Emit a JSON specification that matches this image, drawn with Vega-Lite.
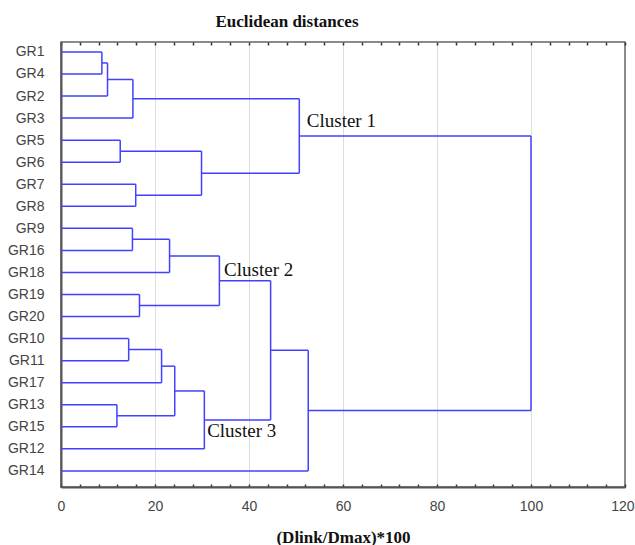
{
  "$schema": "https://vega.github.io/schema/vega-lite/v6.json",
  "width": 564,
  "height": 445,
  "autosize": "none",
  "padding": {"left": 61, "top": 42, "right": 10, "bottom": 58},
  "background": "white",
  "title": {
    "text": "Euclidean distances",
    "anchor": "start",
    "dx": 208,
    "offset": 10,
    "font": "Liberation Serif",
    "fontSize": 17,
    "fontWeight": "bold",
    "color": "#111"
  },
  "config": {
    "view": {"stroke": "#666", "strokeWidth": 1.5},
    "axis": {"labelFont": "Liberation Sans", "labelFontSize": 14, "labelColor": "#444"},
    "axisY": {"labelOverlap": false}
  },
  "datasets": {
    "segs": [
      {"x": 0, "x2": 8.7, "y": 0, "y2": 0},
      {"x": 0, "x2": 8.7, "y": 1, "y2": 1},
      {"x": 8.7, "x2": 8.7, "y": 0, "y2": 1},
      {"x": 8.7, "x2": 9.9, "y": 0.5, "y2": 0.5},
      {"x": 0, "x2": 9.9, "y": 2, "y2": 2},
      {"x": 9.9, "x2": 9.9, "y": 0.5, "y2": 2},
      {"x": 9.9, "x2": 15.3, "y": 1.25, "y2": 1.25},
      {"x": 0, "x2": 15.3, "y": 3, "y2": 3},
      {"x": 15.3, "x2": 15.3, "y": 1.25, "y2": 3},
      {"x": 0, "x2": 12.6, "y": 4, "y2": 4},
      {"x": 0, "x2": 12.6, "y": 5, "y2": 5},
      {"x": 12.6, "x2": 12.6, "y": 4, "y2": 5},
      {"x": 0, "x2": 15.9, "y": 6, "y2": 6},
      {"x": 0, "x2": 15.9, "y": 7, "y2": 7},
      {"x": 15.9, "x2": 15.9, "y": 6, "y2": 7},
      {"x": 12.6, "x2": 29.9, "y": 4.5, "y2": 4.5},
      {"x": 15.9, "x2": 29.9, "y": 6.5, "y2": 6.5},
      {"x": 29.9, "x2": 29.9, "y": 4.5, "y2": 6.5},
      {"x": 15.3, "x2": 50.7, "y": 2.125, "y2": 2.125},
      {"x": 29.9, "x2": 50.7, "y": 5.5, "y2": 5.5},
      {"x": 50.7, "x2": 50.7, "y": 2.125, "y2": 5.5},
      {"x": 0, "x2": 15.2, "y": 8, "y2": 8},
      {"x": 0, "x2": 15.2, "y": 9, "y2": 9},
      {"x": 15.2, "x2": 15.2, "y": 8, "y2": 9},
      {"x": 15.2, "x2": 23.1, "y": 8.5, "y2": 8.5},
      {"x": 0, "x2": 23.1, "y": 10, "y2": 10},
      {"x": 23.1, "x2": 23.1, "y": 8.5, "y2": 10},
      {"x": 0, "x2": 16.7, "y": 11, "y2": 11},
      {"x": 0, "x2": 16.7, "y": 12, "y2": 12},
      {"x": 16.7, "x2": 16.7, "y": 11, "y2": 12},
      {"x": 23.1, "x2": 33.7, "y": 9.25, "y2": 9.25},
      {"x": 16.7, "x2": 33.7, "y": 11.5, "y2": 11.5},
      {"x": 33.7, "x2": 33.7, "y": 9.25, "y2": 11.5},
      {"x": 0, "x2": 14.4, "y": 13, "y2": 13},
      {"x": 0, "x2": 14.4, "y": 14, "y2": 14},
      {"x": 14.4, "x2": 14.4, "y": 13, "y2": 14},
      {"x": 14.4, "x2": 21.4, "y": 13.5, "y2": 13.5},
      {"x": 0, "x2": 21.4, "y": 15, "y2": 15},
      {"x": 21.4, "x2": 21.4, "y": 13.5, "y2": 15},
      {"x": 0, "x2": 11.9, "y": 16, "y2": 16},
      {"x": 0, "x2": 11.9, "y": 17, "y2": 17},
      {"x": 11.9, "x2": 11.9, "y": 16, "y2": 17},
      {"x": 21.4, "x2": 24.2, "y": 14.25, "y2": 14.25},
      {"x": 11.9, "x2": 24.2, "y": 16.5, "y2": 16.5},
      {"x": 24.2, "x2": 24.2, "y": 14.25, "y2": 16.5},
      {"x": 24.2, "x2": 30.5, "y": 15.375, "y2": 15.375},
      {"x": 0, "x2": 30.5, "y": 18, "y2": 18},
      {"x": 30.5, "x2": 30.5, "y": 15.375, "y2": 18},
      {"x": 33.7, "x2": 44.6, "y": 10.375, "y2": 10.375},
      {"x": 30.5, "x2": 44.6, "y": 16.6875, "y2": 16.6875},
      {"x": 44.6, "x2": 44.6, "y": 10.375, "y2": 16.6875},
      {"x": 44.6, "x2": 52.6, "y": 13.53, "y2": 13.53},
      {"x": 0, "x2": 52.6, "y": 19, "y2": 19},
      {"x": 52.6, "x2": 52.6, "y": 13.53, "y2": 19},
      {"x": 50.7, "x2": 100, "y": 3.8125, "y2": 3.8125},
      {"x": 52.6, "x2": 100, "y": 16.266, "y2": 16.266},
      {"x": 100, "x2": 100, "y": 3.8125, "y2": 16.266}
    ],
    "labels": [
      {"x": 52.3, "y": 3.4, "label": "Cluster 1"},
      {"x": 34.7, "y": 10.16, "label": "Cluster 2"},
      {"x": 31.1, "y": 17.46, "label": "Cluster 3"}
    ]
  },
  "layer": [
    {
      "data": {"name": "segs"},
      "mark": {"type": "rule", "color": "#4141ff", "strokeWidth": 1.5},
      "encoding": {
        "x": {
          "field": "x", "type": "quantitative",
          "scale": {"domain": [0, 120], "nice": false, "zero": false},
          "axis": {
            "orient": "bottom",
            "values": [0,4,8,12,16,20,24,28,32,36,40,44,48,52,56,60,64,68,72,76,80,84,88,92,96,100,104,108,112,116,120],
            "labelExpr": "datum.value % 20 === 0 ? datum.label : ''",
            "grid": true,
            "gridColor": "#ddd",
            "gridWidth": 1,
            "gridOpacity": {"condition": {"test": "datum.value % 20 === 0 && datum.value > 0 && datum.value < 120", "value": 1}, "value": 0},
            "tickSize": -3,
            "tickColor": "#333",
            "tickWidth": 1.5,
            "domainColor": "#555",
            "domainWidth": 2,
            "labelPadding": 15,
            "labelFlush": false,
            "labelOverlap": false,
            "labelAlign": {"condition": {"test": "datum.value === 120", "value": "right"}, "value": "center"},
            "labelOffset": {"condition": {"test": "datum.value === 120", "value": 9}, "value": 0},
            "title": "(Dlink/Dmax)*100",
            "titleFont": "Liberation Serif",
            "titleFontSize": 17,
            "titleFontWeight": "bold",
            "titleColor": "#111",
            "titlePadding": 16
          }
        },
        "x2": {"field": "x2"},
        "y": {
          "field": "y", "type": "quantitative",
          "scale": {"domain": [-0.45, 19.73], "reverse": true, "nice": false, "zero": false},
          "axis": {
            "orient": "left",
            "values": [0,1,2,3,4,5,6,7,8,9,10,11,12,13,14,15,16,17,18,19],
            "labelExpr": "['GR1','GR4','GR2','GR3','GR5','GR6','GR7','GR8','GR9','GR16','GR18','GR19','GR20','GR10','GR11','GR17','GR13','GR15','GR12','GR14'][datum.value]",
            "ticks": false,
            "tickSize": 0,
            "grid": false,
            "domainColor": "#555",
            "domainWidth": 2,
            "labelPadding": 17,
            "labelOverlap": false,
            "labelColor": "#444",
            "title": null
          }
        },
        "y2": {"field": "y2"}
      }
    },
    {
      "data": {"name": "labels"},
      "mark": {"type": "text", "align": "left", "baseline": "alphabetic", "font": "Liberation Serif", "fontSize": 19, "color": "#111"},
      "encoding": {
        "x": {
          "field": "x", "type": "quantitative",
          "axis": {
            "orient": "top",
            "values": [0,4,8,12,16,20,24,28,32,36,40,44,48,52,56,60,64,68,72,76,80,84,88,92,96,100,104,108,112,116,120],
            "labels": false,
            "grid": false,
            "domain": false,
            "tickSize": -3,
            "tickColor": "#333",
            "tickWidth": 1.5,
            "title": null
          }
        },
        "y": {
          "field": "y", "type": "quantitative",
          "axis": {
            "orient": "left",
            "values": [0,1,2,3,4,5,6,7,8,9,10,11,12,13,14,15,16,17,18,19],
            "labelExpr": "['GR1','GR4','GR2','GR3','GR5','GR6','GR7','GR8','GR9','GR16','GR18','GR19','GR20','GR10','GR11','GR17','GR13','GR15','GR12','GR14'][datum.value]",
            "ticks": false,
            "tickSize": 0,
            "grid": false,
            "domainColor": "#555",
            "domainWidth": 2,
            "labelPadding": 17,
            "labelOverlap": false,
            "labelColor": "#444",
            "title": null
          }
        },
        "text": {"field": "label"}
      }
    }
  ],
  "resolve": {"axis": {"x": "independent"}}
}
